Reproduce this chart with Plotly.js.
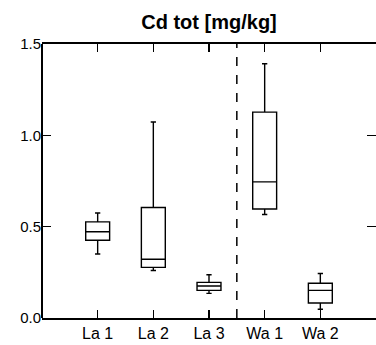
<!DOCTYPE html>
<html>
<head>
<meta charset="utf-8">
<script src="https://cdn.plot.ly/plotly-3.0.1.min.js"></script>
<style>html,body{margin:0;padding:0;background:#fff;}#chart{width:376px;height:345px;}</style>
</head>
<body>
<div id="chart"></div>
<script>
const categories = ['La 1', 'La 2', 'La 3', 'Wa 1', 'Wa 2'];
const lowerWhisker = [0.35, 0.26, 0.135, 0.567, 0.048];
const q1Values = [0.426, 0.277, 0.151, 0.597, 0.082];
const medianValues = [0.472, 0.322, 0.175, 0.745, 0.151];
const q3Values = [0.526, 0.605, 0.195, 1.127, 0.19];
const upperWhisker = [0.575, 1.073, 0.237, 1.392, 0.244];
const yTickValues = [0, 0.5, 1.0, 1.5];
const dividerPosition = 2.5;

const trace = {
  type: 'box',
  x: categories,
  q1: q1Values,
  median: medianValues,
  q3: q3Values,
  lowerfence: lowerWhisker,
  upperfence: upperWhisker,
  boxpoints: false,
  width: 0.43,
  whiskerwidth: 0.22,
  fillcolor: '#ffffff',
  line: {color: '#000000', width: 1.4},
  hoverinfo: 'skip',
  showlegend: false
};

const font = 'Liberation Sans, Arial, Helvetica, sans-serif';
const layout = {
  width: 376, height: 345,
  margin: {l: 42, r: 0, t: 44, b: 27, pad: 0},
  paper_bgcolor: '#ffffff', plot_bgcolor: '#ffffff',
  showlegend: false,
  title: {text: '<b>Cd tot [mg/kg]</b>', font: {family: font, size: 20, color: '#000'}, x: 0.5, xref: 'paper', xanchor: 'center', y: 0.935, yanchor: 'middle'},
  xaxis: {
    type: 'category', range: [-1, 5],
    showline: true, linewidth: 2, linecolor: '#000', mirror: 'ticks',
    ticks: 'inside', ticklen: 8, tickwidth: 1.5, tickcolor: '#000',
    showgrid: false, zeroline: false,
    tickfont: {family: font, size: 16, color: '#000'}
  },
  yaxis: {
    range: [0, 1.5], tickvals: yTickValues, tickformat: '.1f',
    showline: false, mirror: 'ticks',
    ticks: 'inside', ticklen: 9, tickwidth: 1.5, tickcolor: '#000',
    showgrid: false, zeroline: false,
    tickfont: {family: font, size: 15, color: '#000'}
  },
  shapes: [{
    type: 'line', xref: 'x', yref: 'paper',
    x0: dividerPosition, x1: dividerPosition, y0: 0, y1: 1,
    line: {color: '#000', width: 1.5, dash: 'dash'}
  }, {
    type: 'line', xref: 'paper', yref: 'paper',
    x0: 0, x1: 0, y0: 0, y1: 1,
    line: {color: '#000', width: 2}
  }]
};

Plotly.newPlot('chart', [trace], layout, {displayModeBar: false, staticPlot: true});
</script>
</body>
</html>
